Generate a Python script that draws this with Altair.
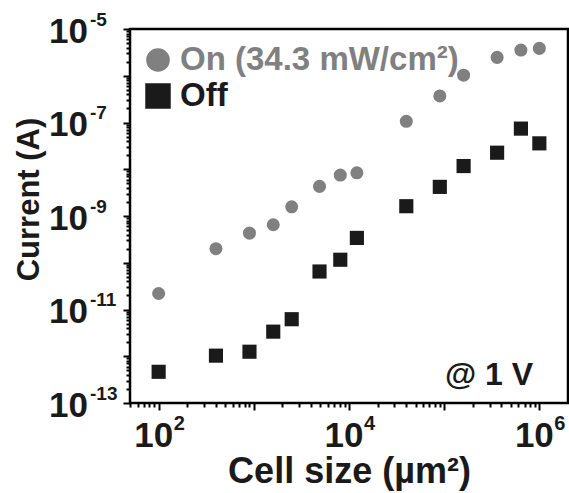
import altair as alt
import pandas as pd

# ---- data ----
cell_size = [100, 400, 900, 1600, 2500, 4900, 8100, 12100,
             40000, 90000, 160000, 360000, 640000, 1000000]
on_current = [2.2e-11, 2.0e-10, 4.3e-10, 6.5e-10, 1.57e-9, 4.3e-9, 7.5e-9, 8.4e-9,
              1.06e-7, 3.7e-7, 1.03e-6, 2.47e-6, 3.54e-6, 3.85e-6]
off_current = [4.65e-13, 1.03e-12, 1.25e-12, 3.36e-12, 6.2e-12, 6.5e-11, 1.16e-10, 3.4e-10,
               1.62e-9, 4.2e-9, 1.17e-8, 2.26e-8, 7.4e-8, 3.58e-8]
series_names = ["On (34.3 mW/cm\u00b2)", "Off"]
series_colors = ["#808080", "#1a1a1a"]
series_shapes = ["circle", "square"]

x_label_exps = [2, 4, 6]
y_label_exps = [-13, -11, -9, -7, -5]
x_decades = [1, 2, 3, 4, 5]
y_decades = [-13, -12, -11, -10, -9, -8, -7, -6]

df = pd.DataFrame({
    "size": cell_size * 2,
    "current": on_current + off_current,
    "series": [series_names[0]] * len(cell_size) + [series_names[1]] * len(cell_size),
})

x_ticks = [k * 10.0 ** d for d in x_decades for k in range(1, 10) if 50 <= k * 10.0 ** d <= 1e6] + [1e6]
y_ticks = [k * 10.0 ** d for d in y_decades for k in range(1, 10)] + [1e-5]

FONT = "Liberation Sans"
INK = "#1a1a1a"
major_test = "abs(log(datum.value)/LN10 - round(log(datum.value)/LN10)) < 0.001"
tick_size = {"condition": {"test": major_test, "value": 7}, "value": 4}

x_axis = alt.Axis(
    values=x_ticks, labels=False, title="Cell size (\u00b5m\u00b2)",
    grid=False, domain=False, tickColor="black", tickSize=tick_size, tickWidth=2, tickOpacity=1,
    titleFont=FONT, titleFontWeight="bold", titleFontSize=36, titleColor=INK,
    titleBaseline="alphabetic", titleY=79, titleX=219,
)
y_axis = alt.Axis(
    values=y_ticks, labels=False, title="Current (A)",
    grid=False, domain=False, tickColor="black", tickSize=tick_size, tickWidth=2, tickOpacity=1,
    titleFont=FONT, titleFontWeight="bold", titleFontSize=31, titleColor=INK,
    titleAngle=270, titleAlign="center", titleBaseline="middle", titleX=-101, titleY=170,
)

x_scale = alt.Scale(type="log", domain=[50, 2e6], nice=False)
y_scale = alt.Scale(type="log", domain=[1e-13, 1e-5], nice=False)

X = alt.X("size:Q", scale=x_scale, axis=x_axis)
Y = alt.Y("current:Q", scale=y_scale, axis=y_axis)

points = alt.Chart(df).mark_point(filled=True, opacity=1).encode(
    x=X, y=Y,
    color=alt.Color("series:N", scale=alt.Scale(domain=series_names, range=series_colors), legend=None),
    shape=alt.Shape("series:N", scale=alt.Scale(domain=series_names, range=series_shapes), legend=None),
    size=alt.Size("series:N", scale=alt.Scale(domain=series_names, range=[170, 200]), legend=None),
)

# ---- tick labels 10^n drawn as base + raised exponent ----
xl = pd.DataFrame({"e": x_label_exps})
yl = pd.DataFrame({"e": y_label_exps})

x_base = alt.Chart(xl).transform_calculate(size="pow(10, datum.e)", t="'10'").mark_text(
    align="center", baseline="alphabetic", font=FONT, fontWeight="bold", fontSize=35, color=INK, dx=-5, dy=44
).encode(x=X, y=alt.value(374), text="t:N")
x_exp = alt.Chart(xl).transform_calculate(size="pow(10, datum.e)", t="'' + datum.e").mark_text(
    align="left", baseline="alphabetic", font=FONT, fontWeight="bold", fontSize=20, color=INK, dx=15, dy=27
).encode(x=X, y=alt.value(374), text="t:N")

y_base = alt.Chart(yl).transform_calculate(current="pow(10, datum.e)", t="'10'").mark_text(
    align="right", baseline="alphabetic", font=FONT, fontWeight="bold", fontSize=35, color=INK, dx=-42, dy=13.5
).encode(y=Y, x=alt.value(0), text="t:N")
y_exp = alt.Chart(yl).transform_calculate(current="pow(10, datum.e)", t="'' + datum.e").mark_text(
    align="left", baseline="alphabetic", font=FONT, fontWeight="bold", fontSize=19, color=INK, dx=-40, dy=-3.5
).encode(y=Y, x=alt.value(0), text="t:N")

# ---- legend (drawn) ----
leg_on = pd.DataFrame({"label": [series_names[0]]})
leg_off = pd.DataFrame({"label": [series_names[1]]})

leg_on_sym = alt.Chart(leg_on).mark_point(filled=True, opacity=1, shape="circle", size=560,
                                          color=series_colors[0]).encode(
    x=alt.value(28), y=alt.value(31))
leg_on_txt = alt.Chart(leg_on).mark_text(align="left", baseline="middle", font=FONT, fontWeight="bold",
                                         fontSize=33, color=series_colors[0]).encode(
    x=alt.value(50), y=alt.value(31), text="label:N")
leg_off_sym = alt.Chart(leg_off).mark_point(filled=True, opacity=1, shape="square", size=650,
                                            color=series_colors[1]).encode(
    x=alt.value(28), y=alt.value(67))
leg_off_txt = alt.Chart(leg_off).mark_text(align="left", baseline="middle", font=FONT, fontWeight="bold",
                                           fontSize=33, color=series_colors[1]).encode(
    x=alt.value(50), y=alt.value(67), text="label:N")

note = alt.Chart(pd.DataFrame({"t": ["@ 1 V"]})).mark_text(
    align="right", baseline="middle", font=FONT, fontWeight="bold", fontSize=32, color=INK).encode(
    x=alt.value(403), y=alt.value(346), text="t:N")

chart = alt.layer(points, x_base, x_exp, y_base, y_exp,
                  leg_on_sym, leg_on_txt, leg_off_sym, leg_off_txt, note).properties(
    width=438, height=374,
    autosize=alt.AutoSizeParams(type="none"),
    padding={"left": 130, "top": 29, "right": 1, "bottom": 90},
    background="white",
).configure_view(stroke="black", strokeWidth=2.5)

chart.save("out.html", embed_options={"renderer": "svg", "actions": False})
